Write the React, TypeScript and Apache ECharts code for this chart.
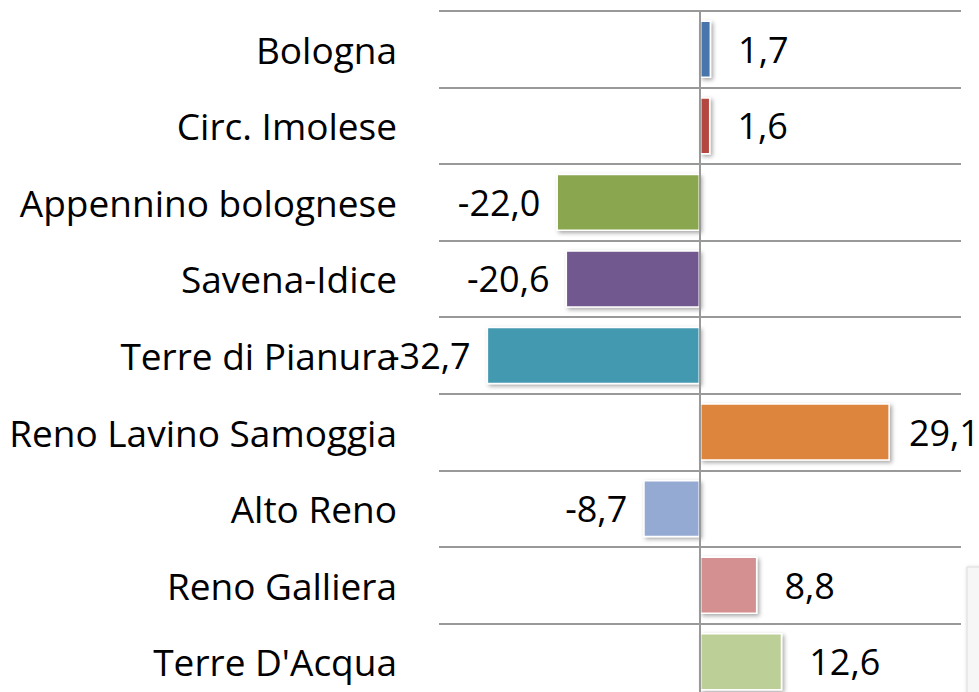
import React, { useEffect, useRef } from "react";
import * as echarts from "echarts";

const categories = [
  "Bologna",
  "Circ. Imolese",
  "Appennino bolognese",
  "Savena-Idice",
  "Terre di Pianura",
  "Reno Lavino Samoggia",
  "Alto Reno",
  "Reno Galliera",
  "Terre D'Acqua",
];
const values = [1.7, 1.6, -22.0, -20.6, -32.7, 29.1, -8.7, 8.8, 12.6];
const barColors = [
  "#4675AC",
  "#B4473F",
  "#8AA64F",
  "#71598E",
  "#4399B0",
  "#DD843C",
  "#94AAD2",
  "#D49090",
  "#BBCF96",
];

const FONT = "Open Sans";

export default function App() {
  const ref = useRef<HTMLDivElement>(null);
  useEffect(() => {
    document.body.style.margin = "0";
    const chart = echarts.init(ref.current!, null, { renderer: "svg" });
    chart.setOption({
      animation: false,
      backgroundColor: "#ffffff",
      grid: { left: 439, top: 11, width: 522, height: 689, containLabel: false },
      xAxis: {
        type: "value",
        min: -40,
        max: 40,
        axisLabel: { show: false },
        axisLine: { show: false },
        axisTick: { show: false },
        splitLine: { show: false },
      },
      yAxis: {
        type: "category",
        inverse: true,
        data: categories,
        axisLine: { show: false },
        axisTick: { show: false },
        axisLabel: {
          margin: 42,
          fontSize: 37,
          fontFamily: FONT,
          color: "#000000",
        },
        splitLine: { show: true, lineStyle: { color: "#999999", width: 2 } },
      },
      graphic: [
        {
          type: "rect",
          shape: { x: 967, y: 567, width: 30, height: 160 },
          style: {
            fill: "#f6f6f6",
            stroke: "#dcdcdc",
            lineWidth: 1,
            shadowColor: "rgba(0,0,0,0.15)",
            shadowBlur: 3,
          },
        },
      ],
      series: [
        {
          type: "bar",
          barCategoryGap: "25%",
          data: values.map((v, i) => ({
            value: v,
            itemStyle: { color: barColors[i] },
            label: {
              position: v >= 0 ? "right" : "left",
              distance: v >= 0 ? (v > 25 ? 19 : 27) : 16,
            },
          })),
          itemStyle: {
            borderColor: "#ffffff",
            borderWidth: 1.5,
            shadowColor: "rgba(0,0,0,0.35)",
            shadowBlur: 4,
            shadowOffsetX: 2,
            shadowOffsetY: 2,
          },
          label: {
            show: true,
            fontSize: 36,
            fontFamily: FONT,
            color: "#000000",
            formatter: (p: any) => p.value.toFixed(1).replace(".", ","),
          },
          markLine: {
            silent: true,
            symbol: ["none", "none"],
            label: { show: false },
            lineStyle: { color: "#999999", width: 2, type: "solid" },
            data: [{ xAxis: 0 }],
          },
        },
      ],
    });
    return () => chart.dispose();
  }, []);
  return (
    <div
      style={{ position: "fixed", left: 0, top: 0, width: 979, height: 692, overflow: "hidden" }}
    >
      <div ref={ref} style={{ width: 979, height: 720 }} />
    </div>
  );
}
